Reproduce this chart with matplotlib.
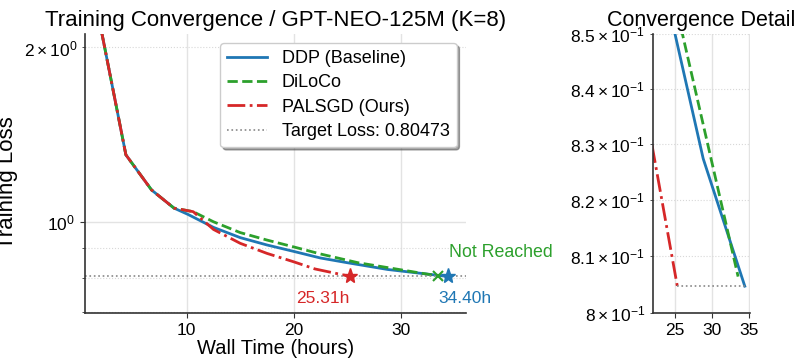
import matplotlib
matplotlib.use("Agg")
import matplotlib.pyplot as plt
import numpy as np

plt.rcParams['font.family'] = ['Liberation Sans', 'DejaVu Sans']
plt.rcParams['mathtext.fontset'] = 'custom'
plt.rcParams['mathtext.rm'] = 'Liberation Sans'
plt.rcParams['mathtext.it'] = 'Liberation Sans:italic'
plt.rcParams['mathtext.bf'] = 'Liberation Sans:bold'

# ---------------- data ----------------
ddp_time = [2.0, 4.3, 6.7, 8.8, 10.1, 12.5, 15.0, 17.5, 20.0, 22.5, 25.0, 28.8, 34.40]
ddp_loss = [2.14, 1.305, 1.135, 1.056, 1.030, 0.978, 0.939, 0.912, 0.889, 0.866, 0.850, 0.8273, 0.80473]

diloco_time = [2.0, 4.3, 6.7, 8.8, 10.6, 12.5, 15.0, 17.5, 20.0, 22.5, 26.0, 33.5]
diloco_loss = [2.14, 1.305, 1.135, 1.056, 1.041, 1.000, 0.958, 0.930, 0.905, 0.880, 0.850, 0.8064]

palsgd_time = [2.0, 4.3, 6.7, 8.8, 10.6, 12.5, 15.0, 17.5, 20.0, 22.0, 25.31]
palsgd_loss = [2.14, 1.305, 1.135, 1.056, 1.041, 0.970, 0.918, 0.882, 0.853, 0.829, 0.80473]

target_loss = 0.80473
ddp_reach = 34.40
palsgd_reach = 25.31

labels = ["DDP (Baseline)", "DiLoCo", "PALSGD (Ours)"]
colors = ["#1f77b4", "#2ca02c", "#d62728"]
styles = ["-", "--", "-."]

series = [(ddp_time, ddp_loss), (diloco_time, diloco_loss), (palsgd_time, palsgd_loss)]

fig = plt.figure(figsize=(7.97, 3.6), dpi=100)
ax1 = fig.add_axes([0.1066, 0.1297, 0.4777, 0.7759])
ax2 = fig.add_axes([0.819, 0.1297, 0.122, 0.7759])

spine_col = "#333333"
grid_col = "#e3e3e3"

for ax in (ax1, ax2):
    for (t, l), lab, c, ls in zip(series, labels, colors, styles):
        ax.plot(t, l, ls, color=c, lw=2, label=lab)
    ax.set_yscale('log')
    for s in ('top', 'right'):
        ax.spines[s].set_visible(False)
    for s in ('left', 'bottom'):
        ax.spines[s].set_color(spine_col)
        ax.spines[s].set_linewidth(1.2)
    ax.tick_params(which='both', colors=spine_col, labelcolor='black', labelsize=12.5)
    ax.grid(True, which='major', color=grid_col, lw=1.0, ls='-')
    ax.grid(True, which='minor', axis='y', color='#d8d8d8', lw=0.8, ls=':')
    ax.set_axisbelow(True)

# target line
ax1.axhline(target_loss, color='#888888', ls=':', lw=1.2, label=f"Target Loss: {target_loss}")
ax2.hlines(target_loss, palsgd_reach, ddp_reach, color='#888888', ls=':', lw=1.2)

# markers
ax1.plot([ddp_reach], [target_loss], marker='*', color=colors[0], ms=11, ls='none')
ax1.plot([palsgd_reach], [target_loss], marker='*', color=colors[2], ms=11, ls='none')
ax1.plot([diloco_time[-1]], [diloco_loss[-1]], marker='x', color=colors[1], ms=7, mew=1.5, ls='none')

ax1.annotate(f"{palsgd_reach:.2f}h", xy=(palsgd_reach, target_loss), xytext=(-20, -16),
             textcoords='offset points', ha='center', va='center', color=colors[2], fontsize=12.5)
ax1.annotate(f"{ddp_reach:.2f}h", xy=(ddp_reach, target_loss), xytext=(12.6, -16),
             textcoords='offset points', ha='center', va='center', color=colors[0], fontsize=12.5)
ax1.annotate("Not Reached", xy=(diloco_time[-1], diloco_loss[-1]), xytext=(45, 17),
             textcoords='offset points', ha='center', va='center', color=colors[1], fontsize=12.8)

ax1.set_xlim(0.47, 36.1)
ax1.set_ylim(0.695, 2.11)
ax1.set_xticks([10, 20, 30])
ax1.set_title("Training Convergence / GPT-NEO-125M (K=8)", fontsize=16)
ax1.set_xlabel("Wall Time (hours)", fontsize=14.5, labelpad=1)
fig.text(0.0095, 0.493, "Training Loss", rotation=90, ha='center', va='center', fontsize=16)

leg = ax1.legend(loc='upper right', fontsize=13, shadow=True, fancybox=True,
                 framealpha=1, edgecolor='#cccccc', handlelength=2.2, labelspacing=0.4)

ax2.set_xlim(22.0, 35.1)
ax2.set_ylim(0.80, 0.85)
ax2.set_xticks([25, 30, 35])
ax2.set_title("Convergence Detail", fontsize=15.5)

fig.savefig("out.png", dpi=100)
